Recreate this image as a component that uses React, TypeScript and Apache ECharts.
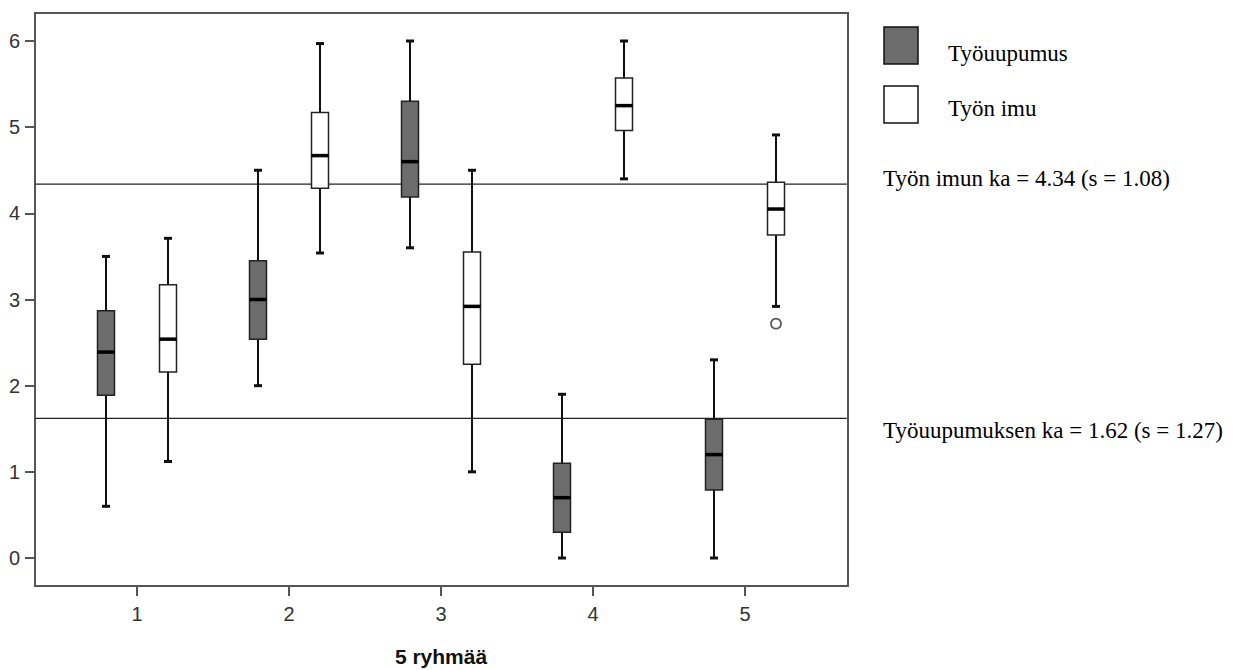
import React, { useEffect, useRef } from "react";
import * as echarts from "echarts";

// Groups (x categories)
const groups = [1, 2, 3, 4, 5];

// Box statistics per group: [min, Q1, median, Q3, max]
const burnoutStats = [
  [0.6, 1.89, 2.39, 2.87, 3.5],
  [2.0, 2.54, 3.0, 3.45, 4.5],
  [3.6, 4.19, 4.6, 5.3, 6.0],
  [0.0, 0.3, 0.7, 1.1, 1.9],
  [0.0, 0.79, 1.2, 1.61, 2.3],
];
const engagementStats = [
  [1.12, 2.16, 2.54, 3.17, 3.71],
  [3.54, 4.29, 4.67, 5.17, 5.97],
  [1.0, 2.25, 2.92, 3.55, 4.5],
  [4.4, 4.96, 5.25, 5.57, 6.0],
  [2.92, 3.75, 4.05, 4.36, 4.91],
];
// Outliers: [group, value]
const engagementOutliers = [[5, 2.72]];

const engagementMean = 4.34;
const burnoutMean = 1.62;

const legendLabels = ["Työuupumus", "Työn imu"];
const meanLabels = [
  "Työn imun ka = 4.34 (s = 1.08)",
  "Työuupumuksen ka = 1.62 (s = 1.27)",
];

// Plot frame extent in data units (frame extends beyond the tick range)
const frameX = [0.33, 5.67];

const DARK = "#6c6c6c";
const SERIF = "'Liberation Serif', 'Times New Roman', serif";
const SANS = "'Liberation Sans', Arial, sans-serif";

function makeRenderItem(offsetPx: number, fill: string) {
  return (params: any, api: any) => {
    const g = api.value(0);
    const mn = api.value(1);
    const q1 = api.value(2);
    const md = api.value(3);
    const q3 = api.value(4);
    const mx = api.value(5);
    const cx = api.coord([g, md])[0] + offsetPx;
    const yMin = api.coord([g, mn])[1];
    const yQ1 = api.coord([g, q1])[1];
    const yMd = api.coord([g, md])[1];
    const yQ3 = api.coord([g, q3])[1];
    const yMax = api.coord([g, mx])[1];
    const half = 8.5;
    const cap = 4;
    const black = "#111";
    return {
      type: "group",
      children: [
        { type: "line", shape: { x1: cx, y1: yQ3, x2: cx, y2: yMax }, style: { stroke: black, lineWidth: 2 } },
        { type: "line", shape: { x1: cx, y1: yQ1, x2: cx, y2: yMin }, style: { stroke: black, lineWidth: 2 } },
        { type: "line", shape: { x1: cx - cap, y1: yMax, x2: cx + cap, y2: yMax }, style: { stroke: black, lineWidth: 3 } },
        { type: "line", shape: { x1: cx - cap, y1: yMin, x2: cx + cap, y2: yMin }, style: { stroke: black, lineWidth: 3 } },
        {
          type: "rect",
          shape: { x: cx - half, y: yQ3, width: half * 2, height: yQ1 - yQ3 },
          style: { fill, stroke: "#222", lineWidth: 1.5 },
        },
        { type: "line", shape: { x1: cx - half, y1: yMd, x2: cx + half, y2: yMd }, style: { stroke: "#000", lineWidth: 3.5 } },
      ],
    };
  };
}

function renderMeanLine(params: any, api: any) {
  const p1 = api.coord([api.value(0), api.value(1)]);
  const p2 = api.coord([api.value(2), api.value(1)]);
  return {
    type: "line",
    shape: { x1: p1[0], y1: p1[1], x2: p2[0], y2: p2[1] },
    style: { stroke: "#222", lineWidth: 1.2 },
  };
}

export default function App() {
  const ref = useRef<HTMLDivElement>(null);
  useEffect(() => {
    if (!ref.current) return;
    const chart = echarts.init(ref.current, undefined, { renderer: "svg" });
    const burnoutData = groups.map((g, i) => [g, ...burnoutStats[i]]);
    const engagementData = groups.map((g, i) => [g, ...engagementStats[i]]);
    chart.setOption({
      animation: false,
      backgroundColor: "#ffffff",
      grid: {
        left: 137,
        right: 505,
        top: 41,
        bottom: 112,
        show: false,
        outerBoundsMode: "none",
      },
      xAxis: {
        type: "value",
        position: "bottom",
        min: 1,
        max: 5,
        interval: 1,
        offset: 28,
        name: "5 ryhmää",
        nameLocation: "middle",
        nameGap: 60,
        nameTextStyle: { fontFamily: SANS, fontSize: 21, fontWeight: "bold", color: "#111" },
        axisLine: { show: false, onZero: false },
        splitLine: { show: false },
        axisTick: { show: true, length: 10, lineStyle: { color: "#555", width: 2 } },
        axisLabel: { margin: 18, fontFamily: SANS, fontSize: 20, color: "#333" },
      },
      yAxis: {
        type: "value",
        position: "left",
        min: 0,
        max: 6,
        interval: 1,
        offset: 102,
        axisLine: { show: false, onZero: false },
        splitLine: { show: false },
        axisTick: { show: true, length: 10, lineStyle: { color: "#555", width: 2 } },
        axisLabel: { margin: 15, fontFamily: SANS, fontSize: 20, color: "#333" },
      },
      series: [
        {
          name: "Keskiarvot",
          type: "custom",
          clip: false,
          silent: true,
          renderItem: renderMeanLine,
          encode: { x: [0, 2], y: 1 },
          data: [
            [frameX[0], engagementMean, frameX[1]],
            [frameX[0], burnoutMean, frameX[1]],
          ],
          z: 2,
        },
        {
          name: legendLabels[0],
          type: "custom",
          clip: false,
          renderItem: makeRenderItem(-31, DARK),
          encode: { x: 0, y: [1, 2, 3, 4, 5] },
          data: burnoutData,
          z: 3,
        },
        {
          name: legendLabels[1],
          type: "custom",
          clip: false,
          renderItem: makeRenderItem(31, "#ffffff"),
          encode: { x: 0, y: [1, 2, 3, 4, 5] },
          data: engagementData,
          z: 3,
        },
        {
          name: "Poikkeavat",
          type: "scatter",
          data: engagementOutliers,
          symbol: "circle",
          symbolSize: 10,
          symbolOffset: [31, 0],
          itemStyle: { color: "#ffffff", borderColor: "#333", borderWidth: 1.8 },
          z: 4,
        },
      ],
      graphic: [
        { type: "rect", z: 0, shape: { x: 35, y: 13, width: 813, height: 573 }, style: { fill: "none", stroke: "#555", lineWidth: 2 } },
        { type: "rect", shape: { x: 884, y: 27, width: 34, height: 37 }, style: { fill: DARK, stroke: "#111", lineWidth: 1.5 } },
        { type: "rect", shape: { x: 884, y: 86, width: 34, height: 37 }, style: { fill: "#fff", stroke: "#111", lineWidth: 1.5 } },
        { type: "text", x: 948, y: 53, style: { text: legendLabels[0], font: `23px ${SERIF}`, fill: "#000", verticalAlign: "middle" } },
        { type: "text", x: 948, y: 108, style: { text: legendLabels[1], font: `23px ${SERIF}`, fill: "#000", verticalAlign: "middle" } },
        { type: "text", x: 883, y: 178, style: { text: meanLabels[0], font: `23px ${SERIF}`, fill: "#000", verticalAlign: "middle" } },
        { type: "text", x: 883, y: 430, style: { text: meanLabels[1], font: `23px ${SERIF}`, fill: "#000", verticalAlign: "middle" } },
      ],
    });
    return () => chart.dispose();
  }, []);
  return (
    <div
      ref={ref}
      style={{ position: "absolute", left: 0, top: 0, width: 1250, height: 670 }}
    />
  );
}
